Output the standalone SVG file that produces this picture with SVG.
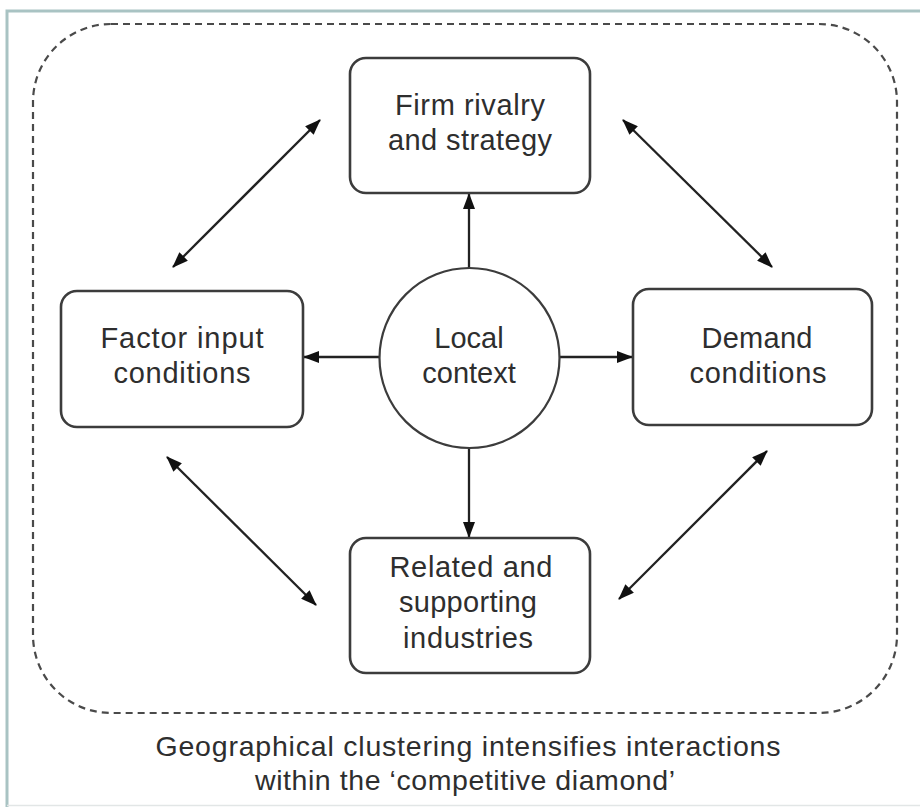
<svg xmlns="http://www.w3.org/2000/svg" width="920" height="807" viewBox="0 0 920 807">
<defs>
<style>
.box{fill:#fff;stroke:#3c3c3c;stroke-width:2.6}
.t{font-family:"Liberation Sans",Arial,sans-serif;font-size:29px;fill:#2e2e2e;text-anchor:middle}
.cap{font-family:"Liberation Sans",Arial,sans-serif;font-size:28.5px;fill:#2e2e2e;text-anchor:middle}
.c{stroke:#222;stroke-width:2.3;fill:none}
</style>
<marker id="ah" viewBox="0 0 16 12" refX="15" refY="6" markerWidth="16" markerHeight="12" markerUnits="userSpaceOnUse" orient="auto-start-reverse">
<path d="M0,0 L16,6 L0,12 Z" fill="#111"/>
</marker>
</defs>
<rect x="0" y="0" width="920" height="807" fill="#fff"/>
<g id="frame">
<path d="M7,807 L7,11 L920,11" fill="none" stroke="#a9c3c3" stroke-width="3"/>
<line x1="7" y1="805.5" x2="920" y2="805.5" stroke="#e2e6e6" stroke-width="1.5"/>
</g>
<g id="cluster">
<rect x="33" y="24" width="864" height="689" rx="78" ry="78" fill="none" stroke="#4a4a4a" stroke-width="2.2" stroke-dasharray="7 5"/>
</g>
<g id="connectors">
<line class="c" x1="469" y1="268" x2="469" y2="194" marker-end="url(#ah)"/>
<line class="c" x1="380" y1="357" x2="304" y2="357" marker-end="url(#ah)"/>
<line class="c" x1="559" y1="357" x2="632" y2="357" marker-end="url(#ah)"/>
<line class="c" x1="469" y1="449" x2="469" y2="537" marker-end="url(#ah)"/>
<line class="c" x1="173" y1="267" x2="320" y2="120" marker-start="url(#ah)" marker-end="url(#ah)"/>
<line class="c" x1="623" y1="120" x2="772" y2="267" marker-start="url(#ah)" marker-end="url(#ah)"/>
<line class="c" x1="167" y1="457" x2="316" y2="605" marker-start="url(#ah)" marker-end="url(#ah)"/>
<line class="c" x1="767" y1="451" x2="619" y2="599" marker-start="url(#ah)" marker-end="url(#ah)"/>
</g>
<g id="firm">
<rect class="box" x="350" y="58" width="240" height="135" rx="16"/>
<text class="t" x="470" y="115" textLength="150" lengthAdjust="spacing">Firm rivalry</text>
<text class="t" x="470" y="150" textLength="164" lengthAdjust="spacing">and strategy</text>
</g>
<g id="factor">
<rect class="box" x="61" y="291" width="242" height="136" rx="16"/>
<text class="t" x="182" y="348" textLength="163" lengthAdjust="spacing">Factor input</text>
<text class="t" x="182" y="383" textLength="137" lengthAdjust="spacing">conditions</text>
</g>
<g id="demand">
<rect class="box" x="633" y="289" width="239" height="136" rx="16"/>
<text class="t" x="757" y="348" textLength="111" lengthAdjust="spacing">Demand</text>
<text class="t" x="758" y="383" textLength="137" lengthAdjust="spacing">conditions</text>
</g>
<g id="local">
<circle cx="469.5" cy="358" r="90" fill="#fff" stroke="#3c3c3c" stroke-width="2.2"/>
<text class="t" x="469" y="348">Local</text>
<text class="t" x="469" y="383">context</text>
</g>
<g id="related">
<rect class="box" x="350" y="538" width="240" height="135" rx="16"/>
<text class="t" x="471" y="577" textLength="163" lengthAdjust="spacing">Related and</text>
<text class="t" x="468" y="612" textLength="138" lengthAdjust="spacing">supporting</text>
<text class="t" x="468" y="648" textLength="130" lengthAdjust="spacing">industries</text>
</g>
<g id="caption">
<text class="cap" x="468" y="756" textLength="625" lengthAdjust="spacing">Geographical clustering intensifies interactions</text>
<text class="cap" x="465" y="790" textLength="420" lengthAdjust="spacing">within the ‘competitive diamond’</text>
</g>
</svg>
